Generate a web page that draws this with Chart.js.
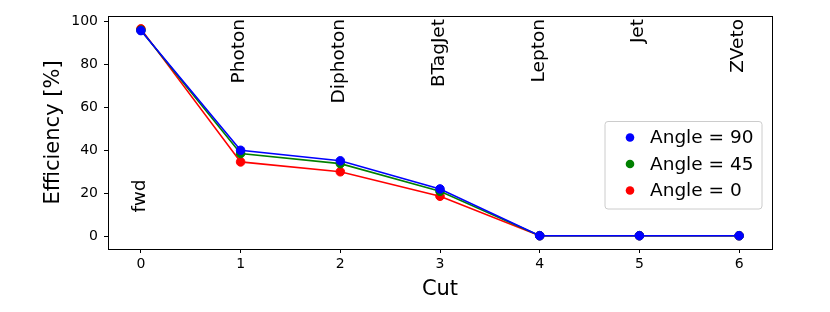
<!DOCTYPE html>
<html>
<head>
<meta charset="utf-8">
<script src="https://cdn.jsdelivr.net/npm/chart.js@4/dist/chart.umd.min.js"></script>
<style>
  html, body { margin: 0; padding: 0; background: #fff; }
  #wrap { width: 830px; height: 312px; }
</style>
</head>
<body>
<div id="wrap"><canvas id="c" width="830" height="312"></canvas></div>
<script>
// ----- data -----
const cuts = [0, 1, 2, 3, 4, 5, 6];
const cutNames = ["fwd", "Photon", "Diphoton", "BTagJet", "Lepton", "Jet", "ZVeto"];
const yTicks = [0, 20, 40, 60, 80, 100];

const angle90 = [95.8, 40.0, 35.1, 22.0, 0.2, 0.2, 0.2];
const angle45 = [96.0, 38.5, 33.8, 20.9, 0.2, 0.2, 0.2];
const angle0  = [96.6, 34.6, 30.0, 18.6, 0.2, 0.2, 0.2];

const seriesLabels = ["Angle = 90", "Angle = 45", "Angle = 0"];
const seriesColors = ["#0000ff", "#008000", "#ff0000"];

const FONT = "'DejaVu Sans', sans-serif";

function pts(vals) {
  return cuts.map((c, i) => ({ x: c, y: vals[i] }));
}

const datasets = [angle90, angle45, angle0].map((vals, k) => ({
  label: seriesLabels[k],
  data: pts(vals),
  borderColor: seriesColors[k],
  backgroundColor: seriesColors[k],
  pointBackgroundColor: seriesColors[k],
  pointBorderColor: seriesColors[k],
  borderWidth: 1.6,
  pointRadius: 4.3,
  pointBorderWidth: 1,
  tension: 0
}));

// box, cut names and legend
const extras = {
  id: "extras",
  afterDatasetsDraw(chart) {
    const ctx = chart.ctx;
    const a = chart.chartArea;
    const xs = chart.scales.x, ys = chart.scales.y;

    // cut names, rotated
    ctx.save();
    ctx.fillStyle = "#000";
    ctx.font = "18.5px " + FONT;
    ctx.textBaseline = "middle";
    cutNames.forEach((name, i) => {
      const px = xs.getPixelForValue(cuts[i]) - 1;
      ctx.save();
      if (i === 0) {
        ctx.translate(px, ys.getPixelForValue(11));
        ctx.rotate(-Math.PI / 2);
        ctx.textAlign = "left";
      } else {
        ctx.translate(px, a.top + 3);
        ctx.rotate(-Math.PI / 2);
        ctx.textAlign = "right";
      }
      ctx.fillText(name, 0, 0);
      ctx.restore();
    });
    ctx.restore();

    // legend
    const lx = 605, ly = 121.5, lw = 157, lh = 87.5;
    ctx.save();
    ctx.fillStyle = "rgba(255,255,255,0.8)";
    ctx.strokeStyle = "#cccccc";
    ctx.lineWidth = 1;
    ctx.beginPath();
    ctx.roundRect(lx, ly, lw, lh, 3);
    ctx.fill();
    ctx.stroke();
    ctx.font = "18.5px " + FONT;
    ctx.textBaseline = "middle";
    ctx.textAlign = "left";
    chart.data.datasets.forEach((ds, k) => {
      const yy = ly + 16 + k * 26.5;
      ctx.fillStyle = ds.borderColor;
      ctx.beginPath();
      ctx.arc(630, yy, 4.3, 0, Math.PI * 2);
      ctx.fill();
      ctx.fillStyle = "#000";
      ctx.fillText(ds.label, 650, yy + 1);
    });
    ctx.restore();

    // frame
    ctx.save();
    ctx.strokeStyle = "#000";
    ctx.lineWidth = 1;
    ctx.strokeRect(Math.round(a.left) + 0.5, Math.round(a.top) + 0.5,
      Math.round(a.right - a.left), Math.round(a.bottom - a.top));
    ctx.restore();
  }
};

new Chart(document.getElementById("c"), {
  type: "line",
  data: { datasets },
  options: {
    responsive: false,
    animation: false,
    layout: { padding: { top: 16, right: 58, left: 0, bottom: 0 } },
    plugins: { legend: { display: false }, tooltip: { enabled: false } },
    scales: {
      x: {
        type: "linear",
        min: -0.33,
        max: 6.33,
        afterBuildTicks(axis) { axis.ticks = cuts.map(v => ({ value: v })); },
        afterFit(axis) { axis.height = 63; },
        grid: { drawOnChartArea: false, drawTicks: true, tickLength: 4, color: "#000" },
        border: { display: false },
        ticks: {
          color: "#000", padding: 3, maxRotation: 0,
          font: { family: FONT, size: 14 },
          callback: v => String(v)
        },
        title: {
          display: true, text: "Cut", color: "#000",
          font: { family: FONT, size: 21, lineHeight: 1.2 },
          padding: { top: 0, bottom: 10 }
        }
      },
      y: {
        type: "linear",
        min: -6,
        max: 102.6,
        afterBuildTicks(axis) { axis.ticks = yTicks.map(v => ({ value: v })); },
        afterFit(axis) { axis.width = 108; },
        grid: { drawOnChartArea: false, drawTicks: true, tickLength: 4, color: "#000" },
        border: { display: false },
        ticks: {
          color: "#000", padding: 6,
          font: { family: FONT, size: 14 },
          callback: v => String(v)
        },
        title: {
          display: true, text: "Efficiency [%]", color: "#000",
          font: { family: FONT, size: 21, lineHeight: 1.2 },
          padding: { top: 41, bottom: 0 }
        }
      }
    }
  },
  plugins: [extras]
});
</script>
</body>
</html>
